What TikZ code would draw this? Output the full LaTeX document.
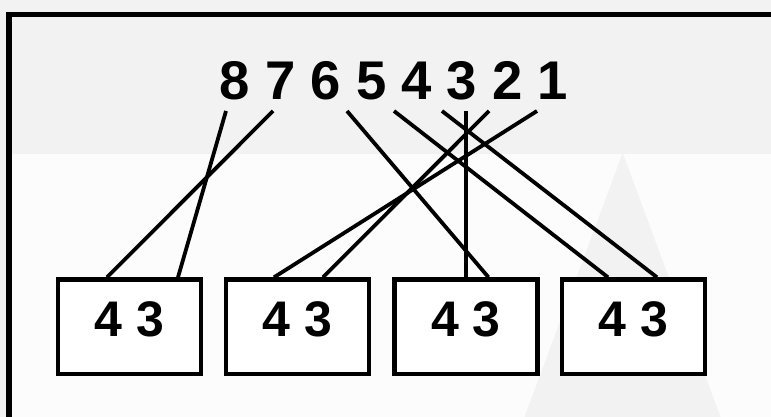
\documentclass[tikz,border=0pt]{standalone}
\usepackage{fontspec}
\setmainfont{Liberation Sans}
\definecolor{bgband}{HTML}{F2F2F2}
\definecolor{bglow}{HTML}{FCFCFC}
\definecolor{tri}{HTML}{F2F2F2}
\begin{document}
\begin{tikzpicture}[x=1pt,y=-1pt,
  conn/.style={line width=3.8pt},
  box/.style={draw, line width=4.3pt, fill=white, minimum width=143pt,
    minimum height=94.5pt, inner sep=0pt, text depth=16pt,
    font=\fontsize{50}{50}\selectfont\bfseries},
  toptext/.style={font=\fontsize{54.5}{56}\selectfont\bfseries, inner sep=0pt, anchor=base}]
\useasboundingbox (0,0) rectangle (771,417);
\clip (0,0) rectangle (771,417);
% background
\fill[bgband] (0,0) rectangle (771,417);
\fill[bglow] (9,154) rectangle (771,417);
\fill[tri] (622.7,153) -- (720.5,417) -- (524.5,417) -- cycle;
\draw[line width=5.7pt] (9.3,460) -- (9.3,14.6) -- (800,14.6);
% top text
\node[toptext] (digits) at (394,100) {8 7 6 5 4 3 2 1};
% line start points below the digits
\coordinate (p1) at (226,111);
\coordinate (p2) at (273,111);
\coordinate (p3) at (347,111);
\coordinate (p4) at (394,111);
\coordinate (p5) at (442,111);
\coordinate (p6) at (465.7,111);
\coordinate (p7) at (489,111);
\coordinate (p8) at (537,111);
% boxes
\node[box] (b1) at (129.5,326.7) {4 3};
\node[box] (b2) at (297.5,326.7) {4 3};
\node[box] (b3) at (466,326.7) {4 3};
\node[box] (b4) at (633.5,326.7) {4 3};
% connectors
\draw[conn] (p1) -- ([xshift=48.5pt]b1.north);
\draw[conn] (p2) -- ([xshift=-22.5pt]b1.north);
\draw[conn] (p3) -- ([xshift=22.5pt]b3.north);
\draw[conn] (p4) -- ([xshift=-25.5pt]b4.north);
\draw[conn] (p5) -- ([xshift=23.5pt]b4.north);
\draw[conn] (p6) -- ([xshift=-0.3pt]b3.north);
\draw[conn] (p7) -- ([xshift=25.5pt]b2.north);
\draw[conn] (p8) -- ([xshift=-23.5pt]b2.north);
\end{tikzpicture}
\end{document}
